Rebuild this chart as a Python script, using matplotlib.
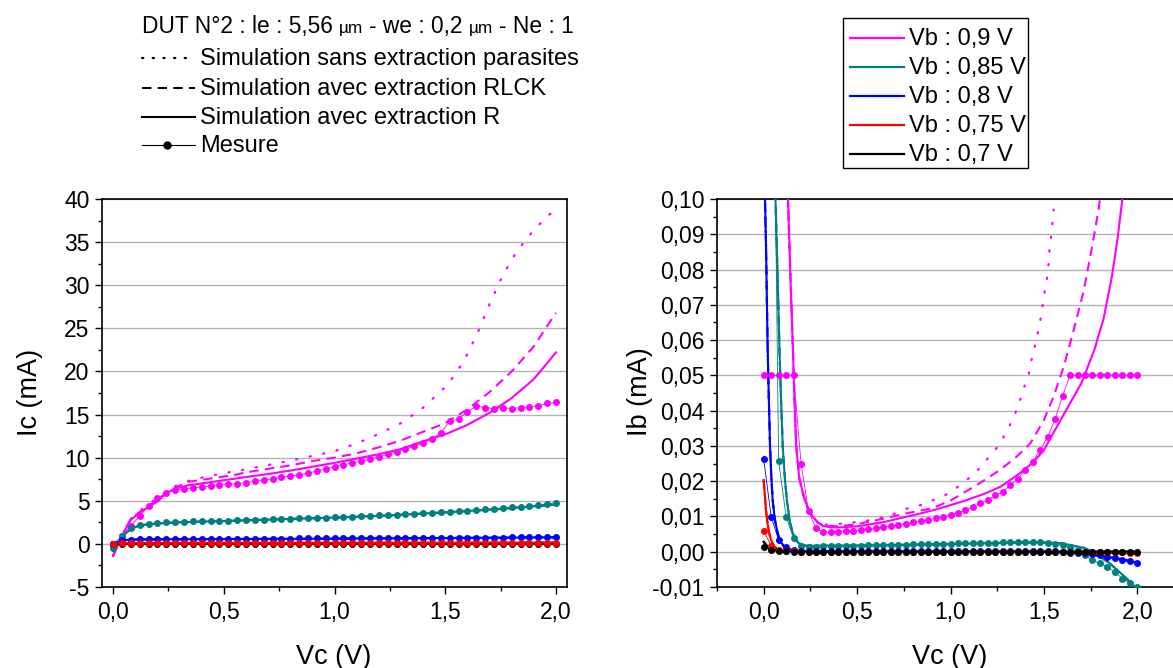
import matplotlib
matplotlib.use('Agg')
import matplotlib.pyplot as plt
from matplotlib.lines import Line2D
from matplotlib.patches import Rectangle
from matplotlib.ticker import MultipleLocator, FuncFormatter

plt.rcParams['font.family'] = ['Liberation Sans', 'DejaVu Sans']

# ── measurement sweep (Vc, V) ────────────────────────────────────────────────
VC_MEAS = [0.00, 0.04, 0.08, 0.12, 0.16, 0.20, 0.24, 0.28, 0.32, 0.36,
           0.40, 0.44, 0.48, 0.52, 0.56, 0.60, 0.64, 0.68, 0.72, 0.76,
           0.80, 0.84, 0.88, 0.92, 0.96, 1.00, 1.04, 1.08, 1.12, 1.16,
           1.20, 1.24, 1.28, 1.32, 1.36, 1.40, 1.44, 1.48, 1.52, 1.56,
           1.60, 1.64, 1.68, 1.72, 1.76, 1.80, 1.84, 1.88, 1.92, 1.96,
           2.00]

# ── Ic measured (mA) ─────────────────────────────────────────────────────────
IC_MEAS_090 = [0.0, 0.9, 2.1, 3.2, 4.4, 5.3, 5.9, 6.3, 6.35, 6.5,
               6.6, 6.7, 6.8, 6.9, 7.0, 7.1, 7.25, 7.4, 7.55, 7.7,
               7.85, 8.0, 8.2, 8.45, 8.7, 8.9, 9.15, 9.4, 9.6, 9.8,
               10.1, 10.4, 10.7, 11.0, 11.3, 11.7, 12.2, 12.9, 14.2, 14.5,
               15.3, 16.0, 15.8, 15.7, 15.8, 15.7, 15.8, 15.9, 16.0, 16.3,
               16.4]
IC_MEAS_085 = [-0.5, 0.9, 1.8, 2.2, 2.35, 2.45, 2.5, 2.5, 2.55, 2.6,
               2.6, 2.65, 2.65, 2.7, 2.75, 2.75, 2.8, 2.8, 2.85, 2.9,
               2.9, 2.95, 3.0, 3.0, 3.05, 3.1, 3.1, 3.15, 3.2, 3.25,
               3.3, 3.35, 3.4, 3.45, 3.5, 3.55, 3.6, 3.7, 3.75, 3.8,
               3.85, 3.95, 4.0, 4.1, 4.15, 4.25, 4.3, 4.4, 4.5, 4.6,
               4.8]
IC_MEAS_080 = [0.0, 0.45, 0.5, 0.55, 0.55, 0.55, 0.56, 0.56, 0.57, 0.57,
               0.58, 0.58, 0.59, 0.59, 0.6, 0.6, 0.6, 0.61, 0.61, 0.62,
               0.62, 0.63, 0.63, 0.64, 0.64, 0.65, 0.65, 0.66, 0.66, 0.67,
               0.67, 0.68, 0.68, 0.69, 0.69, 0.7, 0.7, 0.71, 0.71, 0.72,
               0.72, 0.73, 0.73, 0.74, 0.74, 0.75, 0.75, 0.76, 0.77, 0.78,
               0.78]
IC_MEAS_075 = [0.0, 0.08, 0.1, 0.1, 0.1, 0.1, 0.1, 0.1, 0.1, 0.1,
               0.11, 0.11, 0.11, 0.11, 0.11, 0.11, 0.11, 0.11, 0.11, 0.11,
               0.12, 0.12, 0.12, 0.12, 0.12, 0.12, 0.12, 0.12, 0.12, 0.12,
               0.13, 0.13, 0.13, 0.13, 0.13, 0.13, 0.13, 0.13, 0.13, 0.13,
               0.14, 0.14, 0.14, 0.14, 0.14, 0.14, 0.14, 0.14, 0.14, 0.15,
               0.15]
IC_MEAS_070 = [0.0, 0.01, 0.02, 0.02, 0.02, 0.02, 0.02, 0.02, 0.02, 0.02,
               0.02, 0.02, 0.02, 0.02, 0.02, 0.02, 0.02, 0.02, 0.02, 0.02,
               0.02, 0.02, 0.02, 0.02, 0.02, 0.02, 0.02, 0.02, 0.02, 0.02,
               0.02, 0.02, 0.02, 0.02, 0.02, 0.02, 0.02, 0.02, 0.02, 0.02,
               0.02, 0.02, 0.02, 0.02, 0.02, 0.02, 0.02, 0.02, 0.02, 0.03,
               0.03]

# ── Ic simulated, Vb = 0.9 V ─────────────────────────────────────────────────
VC_IC_R_090 = [0.0, 0.04, 0.08, 0.12, 0.16, 0.20, 0.24, 0.28, 0.34, 0.45,
               0.6, 0.7, 0.8, 0.9, 1.0, 1.1, 1.2, 1.3, 1.4, 1.5,
               1.6, 1.7, 1.8, 1.9, 2.0]
IC_R_090 = [-1.4, 0.9, 2.8, 3.6, 4.3, 4.9, 5.9, 6.4, 6.8, 7.2,
            7.75, 8.1, 8.5, 8.95, 9.4, 9.9, 10.4, 11.0, 11.9, 12.7,
            13.8, 15.2, 16.9, 19.1, 22.2]
VC_IC_RLCK_090 = [0.0, 0.04, 0.08, 0.12, 0.16, 0.20, 0.24, 0.28, 0.34, 0.55,
                  0.6, 0.7, 0.8, 0.9, 1.0, 1.1, 1.2, 1.3, 1.4, 1.5,
                  1.6, 1.7, 1.8, 1.9, 2.0]
IC_RLCK_090 = [-1.4, 1.0, 2.9, 3.7, 4.4, 5.0, 5.9, 6.5, 7.2, 8.0,
               8.3, 8.7, 9.1, 9.6, 10.0, 10.5, 11.2, 12.0, 13.0, 14.0,
               15.6, 17.6, 20.0, 22.9, 26.8]
VC_IC_NONE_090 = [0.0, 0.04, 0.08, 0.12, 0.16, 0.20, 0.24, 0.28, 0.34, 0.42,
                  0.5, 0.6, 0.7, 0.8, 0.9, 1.0, 1.1, 1.2, 1.3, 1.4,
                  1.5, 1.55, 1.6, 1.65, 1.7, 1.75, 1.8, 1.85, 1.9, 1.95,
                  2.0]
IC_NONE_090 = [-1.4, 1.0, 2.9, 3.8, 4.6, 5.3, 6.1, 6.7, 7.3, 7.8,
               8.2, 8.65, 9.15, 9.65, 10.2, 10.75, 11.65, 12.75, 14.0, 15.8,
               18.2, 19.8, 22.0, 24.7, 27.8, 30.6, 33.0, 34.8, 36.4, 37.7,
               38.9]

# ── Ic simulated, lower Vb (the three extractions overlap) ──────────────────
VC_IC_SIM = [0.0, 0.02, 0.04, 0.06, 0.08, 0.1, 0.12, 0.15, 0.2, 0.3,
             0.4, 0.5, 0.75, 1.0, 1.25, 1.5, 1.75, 2.0]
IC_SIM_085 = [-0.8, 0.0, 0.8, 1.3, 1.7, 1.95, 2.1, 2.25, 2.35, 2.5,
              2.58, 2.65, 2.85, 3.05, 3.3, 3.65, 4.05, 4.55]
IC_SIM_080 = [-0.1, 0.2, 0.4, 0.45, 0.48, 0.5, 0.51, 0.52, 0.53, 0.54,
              0.55, 0.56, 0.58, 0.6, 0.64, 0.68, 0.72, 0.76]
IC_SIM_075 = [0.0, 0.05, 0.08, 0.09, 0.1, 0.1, 0.1, 0.1, 0.1, 0.11,
              0.11, 0.11, 0.12, 0.12, 0.13, 0.13, 0.14, 0.15]
IC_SIM_070 = [0.0, 0.01, 0.01, 0.02, 0.02, 0.02, 0.02, 0.02, 0.02, 0.02,
              0.02, 0.02, 0.02, 0.02, 0.02, 0.02, 0.03, 0.03]

# ── Ib measured (mA) ─────────────────────────────────────────────────────────
IB_MEAS_090 = [0.05, 0.05, 0.05, 0.05, 0.05, 0.025, 0.0115, 0.0066, 0.0055, 0.0055,
               0.0057, 0.0059, 0.006, 0.0061, 0.0064, 0.0066, 0.0069, 0.0073, 0.0076, 0.008,
               0.0083, 0.0087, 0.009, 0.0095, 0.0099, 0.0104, 0.011, 0.0118, 0.0128, 0.0137,
               0.0146, 0.016, 0.017, 0.0189, 0.0206, 0.0232, 0.0255, 0.0288, 0.0326, 0.0376,
               0.0442, 0.05, 0.05, 0.05, 0.05, 0.05, 0.05, 0.05, 0.05, 0.05,
               0.05]
IB_MEAS_085 = [0.6, 0.2, 0.0257, 0.0099, 0.0038, 0.0015, 0.0014, 0.0014, 0.0015, 0.0015,
               0.0016, 0.0016, 0.0017, 0.0017, 0.0018, 0.0018, 0.0019, 0.0019, 0.002, 0.002,
               0.0021, 0.0021, 0.0022, 0.0022, 0.0023, 0.0023, 0.0024, 0.0024, 0.0025, 0.0025,
               0.0026, 0.0026, 0.0027, 0.0027, 0.0028, 0.0028, 0.0028, 0.0027, 0.0025, 0.0022,
               0.0018, 0.0012, 0.0005, -0.001, -0.0024, -0.0033, -0.0043, -0.0057, -0.0076, -0.0088,
               -0.0099]
IB_MEAS_080 = [0.0262, 0.0099, 0.0033, 0.0014, 0.0005, 0.0002, 0.0002, 0.0001, 0.0001, 0.0001,
               0.0001, 0.0001, 0.0001, 0.0001, 0.0001, 0.0001, 0.0001, 0.0001, 0.0001, 0.0001,
               0.0001, 0.0001, 0.0001, 0.0001, 0.0001, 0.0001, 0.0001, 0.0001, 0.0001, 0.0001,
               0.0001, 0.0001, 0.0001, 0.0001, 0.0001, 0.0001, 0.0001, 0.0001, 0.0001, 0.0001,
               -0.0002, -0.0003, -0.0004, -0.0005, -0.0007, -0.001, -0.0014, -0.0019, -0.0023, -0.0027,
               -0.0033]
IB_MEAS_075 = [0.0059, 0.0017, 0.0005, 0.0002, 0.0001, 0.0, 0.0, 0.0, 0.0, 0.0,
               0.0, 0.0, 0.0, 0.0, 0.0, 0.0, 0.0, 0.0, 0.0, 0.0,
               0.0, 0.0, 0.0, 0.0, 0.0, 0.0, 0.0, 0.0, 0.0, 0.0,
               0.0, 0.0, 0.0, 0.0, 0.0, 0.0, 0.0, 0.0, 0.0, 0.0,
               0.0, 0.0, 0.0, 0.0, 0.0, -0.0001, -0.0001, -0.0002, -0.0002, -0.0003,
               -0.0003]
IB_MEAS_070 = [0.0014, 0.0005, 0.0002, 0.0001, 0.0, 0.0, 0.0, 0.0, 0.0, 0.0,
               0.0, 0.0, 0.0, 0.0, 0.0, 0.0, 0.0, 0.0, 0.0, 0.0,
               0.0, 0.0, 0.0, 0.0, 0.0, 0.0, 0.0, 0.0, 0.0, 0.0,
               0.0, 0.0, 0.0, 0.0, 0.0, 0.0, 0.0, 0.0, 0.0, 0.0,
               0.0, 0.0, 0.0, 0.0, 0.0, 0.0, 0.0, 0.0, 0.0, 0.0,
               0.0]

# ── Ib simulated, Vb = 0.9 V ─────────────────────────────────────────────────
VC_IB_R_090 = [0.125, 0.13, 0.145, 0.156, 0.165, 0.174, 0.19, 0.21, 0.235, 0.263,
               0.29, 0.317, 0.36, 0.41, 0.5, 0.55, 0.65, 0.73, 0.82, 0.91,
               1.0, 1.09, 1.18, 1.27, 1.37, 1.445, 1.5, 1.55, 1.62, 1.7,
               1.77, 1.82, 1.864, 1.895, 1.92, 1.93]
IB_R_090 = [0.11, 0.1, 0.075, 0.058, 0.043, 0.03, 0.021, 0.0165, 0.0125, 0.0099,
            0.0083, 0.0073, 0.0069, 0.0069, 0.0072, 0.0076, 0.0085, 0.0095, 0.0106, 0.0118,
            0.0132, 0.0147, 0.0164, 0.0185, 0.0222, 0.0255, 0.0288, 0.0336, 0.0402, 0.0477,
            0.0572, 0.0662, 0.078, 0.089, 0.1, 0.11]
VC_IB_RLCK_090 = [0.125, 0.13, 0.145, 0.156, 0.165, 0.174, 0.19, 0.21, 0.235, 0.263,
                  0.29, 0.32, 0.4, 0.5, 0.6, 0.7, 0.765, 0.9, 1.0, 1.14,
                  1.266, 1.355, 1.427, 1.5, 1.552, 1.606, 1.66, 1.714, 1.758, 1.794,
                  1.81]
IB_RLCK_090 = [0.11, 0.1, 0.075, 0.058, 0.043, 0.03, 0.021, 0.0165, 0.0125, 0.0099,
               0.0083, 0.0074, 0.0072, 0.0078, 0.0089, 0.0101, 0.0109, 0.0123, 0.0145, 0.0189,
               0.0232, 0.027, 0.0307, 0.0373, 0.044, 0.0525, 0.0629, 0.0742, 0.0865, 0.0974,
               0.105]
VC_IB_NONE_090 = [0.125, 0.13, 0.145, 0.156, 0.165, 0.174, 0.19, 0.21, 0.235, 0.263,
                  0.29, 0.32, 0.4, 0.46, 0.54, 0.62, 0.7, 0.77, 0.84, 0.91,
                  0.99, 1.06, 1.13, 1.2, 1.257, 1.3, 1.338, 1.368, 1.39, 1.418,
                  1.432, 1.45, 1.466, 1.481, 1.493, 1.504, 1.517, 1.525, 1.53, 1.54,
                  1.552]
IB_NONE_090 = [0.11, 0.1, 0.075, 0.058, 0.043, 0.03, 0.021, 0.0165, 0.0125, 0.0099,
               0.0083, 0.0076, 0.0079, 0.0082, 0.0087, 0.0095, 0.0108, 0.0123, 0.0132, 0.0147,
               0.0165, 0.0192, 0.0222, 0.0265, 0.03, 0.034, 0.038, 0.0422, 0.046, 0.05,
               0.054, 0.058, 0.0618, 0.0657, 0.0698, 0.0737, 0.0777, 0.0816, 0.0855, 0.09,
               0.097]

# ── Ib simulated, lower Vb ───────────────────────────────────────────────────
VC_IB_085 = [0.055, 0.063, 0.075, 0.084, 0.093, 0.102, 0.113, 0.124, 0.14, 0.156,
             0.175, 0.19, 0.227, 0.4, 0.6, 0.8, 1.0, 1.2, 1.4, 1.5,
             1.59, 1.65, 1.714, 1.76, 1.8, 1.85, 1.893, 1.94, 1.98, 2.0]
IB_SIM_085 = [0.12, 0.1, 0.077, 0.058, 0.043, 0.0298, 0.021, 0.0146, 0.0085, 0.0052,
              0.0032, 0.0024, 0.0017, 0.0017, 0.0018, 0.002, 0.0022, 0.0024, 0.0026, 0.0026,
              0.0024, 0.0018, 0.0011, 0.0, -0.0014, -0.0032, -0.0052, -0.0075, -0.0097, -0.0108]
VC_IB_080 = [0.0, 0.007, 0.0125, 0.021, 0.028, 0.034, 0.041, 0.048, 0.06, 0.075,
             0.09, 0.11, 0.13, 0.156, 0.3, 1.0, 1.5, 1.6, 1.714, 1.8,
             1.893, 2.0]
IB_SIM_080 = [0.13, 0.1, 0.0865, 0.058, 0.042, 0.0298, 0.021, 0.0146, 0.009, 0.0052,
              0.0028, 0.0014, 0.0007, 0.0003, 0.0001, 0.0, 0.0, -0.0002, -0.0007, -0.0012,
              -0.0019, -0.0031]
VC_IB_075 = [0.0, 0.0125, 0.02, 0.03, 0.04, 0.057, 0.08, 0.1, 0.2, 1.0, 1.6, 2.0]
IB_SIM_075 = [0.0203, 0.0118, 0.0082, 0.0052, 0.0032, 0.0014, 0.0006, 0.0003, 0.0001, 0.0,
              -0.0001, -0.0005]
VC_IB_070 = [0.0, 0.02, 0.05, 0.1, 0.5, 1.0, 1.5, 2.0]
IB_SIM_070 = [0.0028, 0.0015, 0.0005, 0.0001, 0.0, 0.0, 0.0, 0.0]

VB_LABELS = ['Vb : 0,9 V', 'Vb : 0,85 V', 'Vb : 0,8 V', 'Vb : 0,75 V', 'Vb : 0,7 V']
VB_COLORS = ['#FF00FF', '#008080', '#0000FF', '#FF0000', '#000000']

# title pieces: (text, small "µm" glyph?)
LEG_TITLE = [('DUT N°2 : le : 5,56', False), ('µm', True), ('- we : 0,2', False),
             ('µm', True), ('- Ne : 1', False)]
LEG_LABELS = ['Simulation sans extraction parasites',
              'Simulation avec extraction RLCK',
              'Simulation avec extraction R',
              'Mesure']

# ── figure geometry (pixels of the 1173 x 668 canvas) ────────────────────────
W, H = 1173, 668
DOT = dict(linestyle=(0, (0.6, 5.6)), lw=1.6, dash_capstyle='round')
DOT_LEG = dict(linestyle=(0, (0.6, 4.2)), lw=1.6, dash_capstyle='round')
DASH = dict(linestyle=(0, (4.5, 3.0)), lw=1.5)
SOLID = dict(linestyle='-', lw=1.5)
FS_LEG = 17
FS_TITLE = 16.4


def fx(x):
    return x / W


def fy(y):
    return 1 - y / H


def comma(fmt):
    def f(v, pos):
        s = fmt.format(v + 0.0)
        if s.startswith('-') and float(s) == 0:
            s = s[1:]
        return s.replace('.', ',')
    return FuncFormatter(f)


def style_axes(ax):
    ax.grid(axis='y', which='major', color='#b4b4b4', lw=1.0, zorder=0)
    ax.set_axisbelow(True)
    for sp in ax.spines.values():
        sp.set_linewidth(1.2)
    ax.tick_params(which='major', direction='out', length=5, width=1.0,
                   labelsize=16.5, color='black')
    ax.tick_params(which='minor', direction='out', length=3, width=1.0)
    ax.tick_params(axis='x', which='major', pad=5)
    ax.tick_params(axis='y', which='major', pad=4)
    ax.xaxis.set_major_locator(MultipleLocator(0.5))
    ax.xaxis.set_minor_locator(MultipleLocator(0.25))
    ax.xaxis.set_major_formatter(comma('{:.1f}'))


def meas(ax, y, color):
    ax.plot(VC_MEAS, y, color=color, lw=0.6, marker='o', ms=4,
            mfc=color, mec=color, zorder=4)


fig = plt.figure(figsize=(W / 100, H / 100), dpi=100)
fig.patch.set_facecolor('white')

# ── left: Ic ────────────────────────────────────────────────────────────────
ax1 = fig.add_axes([fx(102), fy(587), 465 / W, 388 / H])
style_axes(ax1)
ax1.set_xlim(-0.05, 2.05)
ax1.set_ylim(-5, 40)
ax1.yaxis.set_major_locator(MultipleLocator(5))
ax1.yaxis.set_minor_locator(MultipleLocator(2.5))
ax1.yaxis.set_major_formatter(comma('{:.0f}'))

m = VB_COLORS[0]
ax1.plot(VC_IC_NONE_090, IC_NONE_090, color=m, **DOT, zorder=3)
ax1.plot(VC_IC_RLCK_090, IC_RLCK_090, color=m, **DASH, zorder=3)
ax1.plot(VC_IC_R_090, IC_R_090, color=m, **SOLID, zorder=3)
meas(ax1, IC_MEAS_090, m)
for ys, ym, c in [(IC_SIM_085, IC_MEAS_085, VB_COLORS[1]),
                  (IC_SIM_080, IC_MEAS_080, VB_COLORS[2]),
                  (IC_SIM_070, IC_MEAS_070, VB_COLORS[4]),
                  (IC_SIM_075, IC_MEAS_075, VB_COLORS[3])]:
    ax1.plot(VC_IC_SIM, ys, color=c, **DOT, zorder=3)
    ax1.plot(VC_IC_SIM, ys, color=c, **DASH, zorder=3)
    ax1.plot(VC_IC_SIM, ys, color=c, **SOLID, zorder=3)
    meas(ax1, ym, c)

# ── right: Ib ───────────────────────────────────────────────────────────────
ax2 = fig.add_axes([fx(717), fy(587), 467 / W, 388 / H])
style_axes(ax2)
ax2.set_xlim(-0.25, 2.25)
ax2.set_ylim(-0.01, 0.10)
ax2.yaxis.set_major_locator(MultipleLocator(0.01))
ax2.yaxis.set_minor_locator(MultipleLocator(0.005))
ax2.yaxis.set_major_formatter(comma('{:.2f}'))

ax2.plot(VC_IB_NONE_090, IB_NONE_090, color=m, **DOT, zorder=3)
ax2.plot(VC_IB_RLCK_090, IB_RLCK_090, color=m, **DASH, zorder=3)
ax2.plot(VC_IB_R_090, IB_R_090, color=m, **SOLID, zorder=3)
meas(ax2, IB_MEAS_090, m)
for xs, ys, ym, c in [(VC_IB_085, IB_SIM_085, IB_MEAS_085, VB_COLORS[1]),
                      (VC_IB_080, IB_SIM_080, IB_MEAS_080, VB_COLORS[2]),
                      (VC_IB_075, IB_SIM_075, IB_MEAS_075, VB_COLORS[3]),
                      (VC_IB_070, IB_SIM_070, IB_MEAS_070, VB_COLORS[4])]:
    ax2.plot(xs, ys, color=c, **DOT, zorder=3)
    ax2.plot(xs, ys, color=c, **DASH, zorder=3)
    ax2.plot(xs, ys, color=c, **SOLID, zorder=3)
    meas(ax2, ym, c)

# ── axis labels ─────────────────────────────────────────────────────────────
lab = dict(fontsize=19.5, ha='center', va='center')
fig.text(fx(334), fy(657), 'Vc (V)', **lab)
fig.text(fx(950), fy(657), 'Vc (V)', **lab)
fig.text(fx(30), fy(392), 'Ic (mA)', rotation=90, **lab)
fig.text(fx(640), fy(392), 'Ib (mA)', rotation=90, **lab)

# ── line-style legend (no frame) ────────────────────────────────────────────
renderer = fig.canvas.get_renderer()
space_px = 0.26 * FS_TITLE * 100 / 72
xp = 142
for txt, small in LEG_TITLE:
    t = fig.text(fx(xp), fy(33), txt, fontsize=FS_TITLE * (0.76 if small else 1.0),
                 ha='left', va='baseline')
    xp += t.get_window_extent(renderer=renderer).width + space_px

rows = [58, 88, 117, 145]
styles = [DOT_LEG, DASH, SOLID, None]
for y, st, txt in zip(rows, styles, LEG_LABELS):
    if st is None:
        fig.add_artist(Line2D([fx(142), fx(195)], [fy(y), fy(y)], color='black',
                              lw=0.8, transform=fig.transFigure))
        fig.add_artist(Line2D([fx(167)], [fy(y)], color='black', marker='o', ms=5,
                              transform=fig.transFigure))
    else:
        x1 = 188 if st is DOT_LEG else 195
        fig.add_artist(Line2D([fx(142), fx(x1)], [fy(y), fy(y)], color='black',
                              transform=fig.transFigure, **st))
    fig.text(fx(200), fy(y + 1), txt, fontsize=FS_LEG, ha='left', va='center')

# ── colour legend (framed) ──────────────────────────────────────────────────
fig.add_artist(Rectangle((fx(843), fy(168)), (1028 - 843) / W, (168 - 18) / H,
                         transform=fig.transFigure, facecolor='white',
                         edgecolor='black', lw=1.0))
for i, (lbl, c) in enumerate(zip(VB_LABELS, VB_COLORS)):
    y = 38 + 29 * i
    fig.add_artist(Line2D([fx(850), fx(904)], [fy(y), fy(y)], color=c, lw=1.6,
                          transform=fig.transFigure))
    fig.text(fx(909), fy(y + 1), lbl, fontsize=FS_LEG, ha='left', va='center')

fig.savefig('out.png', dpi=100, facecolor='white')
plt.close(fig)
